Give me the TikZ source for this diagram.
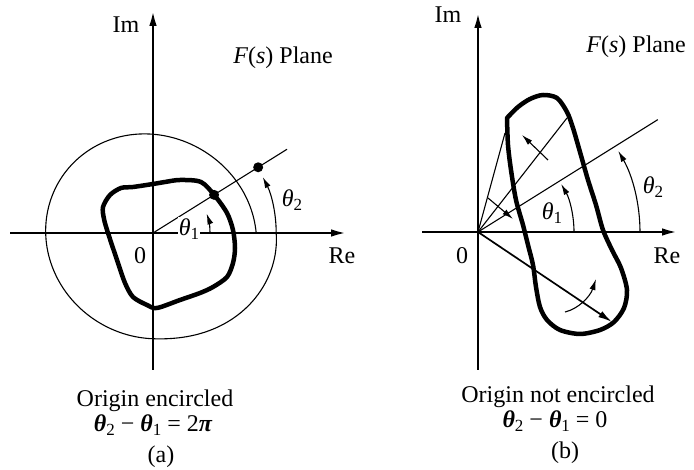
\documentclass[tikz,border=0pt]{standalone}
\usepackage{fontspec}
\setmainfont{Liberation Serif}
\usetikzlibrary{arrows.meta}
\newcommand\lowsub[1]{\raisebox{-4.5pt}{\fontsize{17}{17}\selectfont #1}}
\newcommand\bth{{\bfseries\itshape θ}}
\newcommand\ith{{\itshape θ}}
\begin{document}
\begin{tikzpicture}[x=1pt,y=1pt,
  axis/.style={line width=2.6pt, -{Latex[length=16pt,width=7.5pt]}},
  thinline/.style={line width=1.1pt},
  contour/.style={line width=4.5pt, line join=round, line cap=round},
  angarrow/.style={line width=1.1pt, -{Latex[length=11pt,width=6pt]}},
  lbl/.style={inner sep=0pt, font=\fontsize{24}{28}\selectfont},
  dot/.style={circle, fill=black, inner sep=0pt, minimum size=10pt}]
\useasboundingbox (0,0) rectangle (694,470);
\fill[white] (0,0) rectangle (694,470);

% ---------------- Panel (a) ----------------
\begin{scope}[shift={(153,237)}]
  \coordinate (Oa) at (0,0);
  \coordinate (aImS) at (0,-137);
  \coordinate (aImE) at (0,223);
  \coordinate (aReS) at (-143,0);
  \coordinate (aReE) at (194,0);
  \draw[axis] (aReS) -- (aReE);
  \draw[axis] (aImS) -- (aImE);
  % thin spiral contour
  \draw[thinline] plot[domain=0:360, samples=181, smooth, variable=\t]
    ({\t}:{103.75-2.07*cos(\t)-3.5*sin(\t)+1.5*cos(2*\t)-2.9*sin(2*\t)+20*(max(0,(\t-270)/90))^2*(3-2*max(0,(\t-270)/90))});
  \draw[angarrow] (0:123.2) arc[start angle=0, end angle=27, radius=123.2pt];
  % thick contour
  \draw[contour] plot[smooth cycle, tension=0.5] coordinates {(0,49) (-20,46) (-32,45) (-43,38) (-50,26) (-49,14) (-45,0) (-36,-27) (-28,-50) (-20,-64) (-6,-72) (4,-75) (27,-67) (47,-60) (60,-54) (74,-44) (80,-30) (82,-15) (80,3) (74,20) (62,37) (48,51) (27,53) (12,51)};
  % ray and dots
  \coordinate (aRayE) at (32:158);
  \draw[thinline] (Oa) -- (aRayE);
  \node[dot] (ad1) at (32:72) {};
  \node[dot] (ad2) at (32:124) {};
  \draw[angarrow] (0:57) arc[start angle=0, end angle=20, radius=57pt];
  % labels
  \node[lbl, fill=white, inner sep=1pt] (ath1) at (36,4) {\ith\lowsub{1}};
  \node[lbl] (ath2) at (139,33) {\ith\lowsub{2}};
  \node[lbl] (aIm) at (-27,208) {Im};
  \node[lbl] (aF) at (130,175) {\textit{F}(\textit{s}) Plane};
  \node[lbl] (aRe) at (189,-23) {Re};
  \node[lbl] (a0) at (-13,-23) {0};
  \node[lbl] (acap1) at (2,-168) {Origin encircled};
  \node[lbl] (acap2) at (0,-192) {\bth\lowsub{2} − \bth\lowsub{1} = 2{\bfseries\itshape π}};
  \node[lbl] (acap3) at (8,-224) {(a)};
\end{scope}

% ---------------- Panel (b) ----------------
\begin{scope}[shift={(478,238)}]
  \coordinate (Ob) at (0,0);
  \coordinate (bImS) at (0,-138);
  \coordinate (bImE) at (0,220);
  \coordinate (bReS) at (-56,0);
  \coordinate (bReE) at (200,0);
  \draw[axis] (bReS) -- (bReE);
  \draw[axis] (bImS) -- (bImE);
  % thick contour
  \draw[contour] plot[smooth, tension=0.5] coordinates {(29,114) (40,125) (52,133) (65,137) (79,134) (89,120) (95,104) (102,80) (110,52) (118,27) (125,2) (134,-18) (143,-36) (149,-58) (146,-76) (136,-90) (122,-98) (102,-102) (82,-98) (69,-88) (62,-75) (58,-55) (55,-33) (50,-13) (45,7) (38,32) (33,62) (30,87) (29,114)};
  % rays
  \coordinate (bR1) at (27,99);
  \coordinate (bR2) at (89,114);
  \coordinate (bR3) at (32:212);
  \coordinate (bR4) at (134,-90);
  \draw[thinline] (Ob) -- (bR1);
  \draw[thinline] (Ob) -- (bR2);
  \draw[thinline] (Ob) -- (bR3);
  \draw[line width=1.7pt, -{Latex[length=14pt,width=7pt]}] (Ob) -- (bR4);
  % rotation arrows
  \draw[angarrow] (70,72) -- (44,97);
  \draw[angarrow] (10,34) -- (35,13);
  \draw[angarrow] (87,-80) .. controls (100,-77) and (112,-65) .. (118,-47);
  % angle arcs
  \draw[angarrow] (0:96) arc[start angle=0, end angle=30, radius=96pt];
  \draw[angarrow] (0:162) arc[start angle=0, end angle=30, radius=162pt];
  % labels
  \node[lbl] (bth1) at (74,19) {\ith\lowsub{1}};
  \node[lbl] (bth2) at (175,45) {\ith\lowsub{2}};
  \node[lbl] (bIm) at (-30,217) {Im};
  \node[lbl] (bF) at (158,185) {\textit{F}(\textit{s}) Plane};
  \node[lbl] (bRe) at (189,-24) {Re};
  \node[lbl] (b0) at (-16,-24) {0};
  \node[lbl] (bcap1) at (80,-165) {Origin not encircled};
  \node[lbl] (bcap2) at (77,-189) {\bth\lowsub{2} − \bth\lowsub{1} = 0};
  \node[lbl] (bcap3) at (87,-221) {(b)};
\end{scope}
\end{tikzpicture}
\end{document}
